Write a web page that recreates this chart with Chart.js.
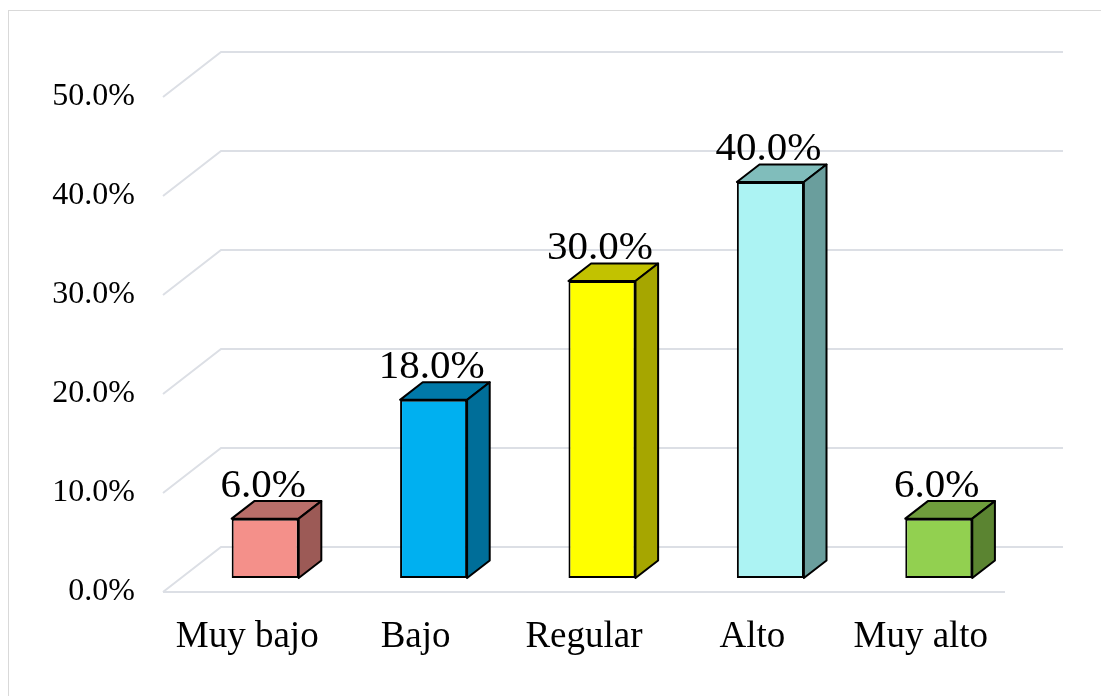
<!DOCTYPE html>
<html lang="es">
<head>
<meta charset="utf-8">
<title>Distribución por nivel</title>
<script src="https://cdn.jsdelivr.net/npm/chart.js@4.4.1/dist/chart.umd.min.js"></script>
<style>
  html, body { margin: 0; padding: 0; background: #fff; }
  canvas { display: block; }
</style>
</head>
<body>
<canvas id="chart-niveles" width="1101" height="696"></canvas>
<script>
(function () {
  'use strict';

  var categories  = ['Muy bajo', 'Bajo', 'Regular', 'Alto', 'Muy alto'];
  var percentages = [6, 18, 30, 40, 6];
  var frontColors = ['#F4908A', '#00B0F0', '#FFFF00', '#ACF3F3', '#92D050'];
  var topColors   = ['#B86E69', '#0079A8', '#C2C200', '#80BDBB', '#6F9D3C'];
  var sideColors  = ['#9C5A56', '#006E99', '#A6A600', '#6A9E9D', '#5B8431'];
  var yTickStep   = 10;
  var yMax        = 50;

  var SERIF = "'Liberation Serif', 'Times New Roman', serif";
  var GRID  = '#DCDFE5';

  // depth of the floor / back wall, and where the boxes sit inside it
  var DEPTH_X = 58, DEPTH_Y = -45;
  var BAR_OFFSET = 0.31;
  var BAR_DEPTH  = 0.39;

  Chart.defaults.font.family = SERIF;
  Chart.defaults.color = '#000';

  function pct(v) { return v.toFixed(1) + '%'; }

  // ── Frame, floor and back wall ──────────────────────────
  var wallPlugin = {
    id: 'wall3d',
    beforeDraw: function (chart) {
      var ctx = chart.ctx;
      var area = chart.chartArea;
      var y = chart.scales.y;

      ctx.save();
      ctx.strokeStyle = '#D9D9D9';
      ctx.lineWidth = 1;
      ctx.strokeRect(8.5, 10.5, 1200, 1000);

      ctx.strokeStyle = GRID;
      ctx.lineWidth = 2;
      y.ticks.forEach(function (t) {
        var py = y.getPixelForValue(t.value);
        ctx.beginPath();
        ctx.moveTo(area.left, py);
        ctx.lineTo(area.left + DEPTH_X, py + DEPTH_Y);
        ctx.lineTo(area.right + DEPTH_X, py + DEPTH_Y);
        ctx.stroke();
      });
      ctx.beginPath();
      ctx.moveTo(area.left, area.bottom);
      ctx.lineTo(area.right, area.bottom);
      ctx.stroke();
      ctx.restore();
    }
  };

  // ── Box tops and sides; front faces come from Chart.js ──
  var boxPlugin = {
    id: 'box3d',
    beforeDatasetsDraw: function (chart) {
      var ctx = chart.ctx;
      var dx = DEPTH_X * BAR_DEPTH, dy = DEPTH_Y * BAR_DEPTH;

      ctx.save();
      ctx.translate(DEPTH_X * BAR_OFFSET, DEPTH_Y * BAR_OFFSET);
      chart.getDatasetMeta(0).data.forEach(function (bar, i) {
        var l = bar.x - bar.width / 2, r = bar.x + bar.width / 2;
        var t = bar.y, b = bar.base;

        ctx.lineJoin = 'round';
        ctx.lineWidth = 2;
        ctx.strokeStyle = '#000';

        ctx.beginPath();
        ctx.moveTo(l, t);
        ctx.lineTo(l + dx, t + dy);
        ctx.lineTo(r + dx, t + dy);
        ctx.lineTo(r, t);
        ctx.closePath();
        ctx.fillStyle = topColors[i];
        ctx.fill();
        ctx.stroke();

        ctx.beginPath();
        ctx.moveTo(r, t);
        ctx.lineTo(r + dx, t + dy);
        ctx.lineTo(r + dx, b + dy);
        ctx.lineTo(r, b);
        ctx.closePath();
        ctx.fillStyle = sideColors[i];
        ctx.fill();
        ctx.stroke();
      });
    },
    afterDatasetsDraw: function (chart) {
      var ctx = chart.ctx;
      ctx.restore();

      ctx.save();
      ctx.font = '41px ' + SERIF;
      ctx.fillStyle = '#000';
      ctx.textAlign = 'center';
      ctx.textBaseline = 'alphabetic';
      chart.getDatasetMeta(0).data.forEach(function (bar, i) {
        ctx.fillText(pct(percentages[i]),
          bar.x + DEPTH_X * BAR_OFFSET - 2,
          bar.y + DEPTH_Y * BAR_OFFSET - 22);
      });
      ctx.restore();
    }
  };

  new Chart(document.getElementById('chart-niveles'), {
    type: 'bar',
    data: {
      labels: categories,
      datasets: [{
        data: percentages,
        backgroundColor: frontColors,
        borderColor: '#000',
        borderWidth: 2,
        borderSkipped: false,
        categoryPercentage: 1,
        barPercentage: 0.398
      }]
    },
    options: {
      responsive: false,
      animation: false,
      layout: { padding: { left: 0, top: 97, right: 96, bottom: 0 } },
      plugins: {
        legend: { display: false },
        tooltip: { enabled: false }
      },
      scales: {
        y: {
          min: 0,
          max: yMax,
          ticks: {
            stepSize: yTickStep,
            padding: 28,
            font: { size: 32 },
            callback: function (v) { return pct(v); }
          },
          grid: { display: false, drawTicks: false },
          border: { display: false },
          afterFit: function (s) { s.width = 163; }
        },
        x: {
          ticks: { padding: 23, font: { size: 37 } },
          grid: { display: false, drawTicks: false },
          border: { display: false },
          afterFit: function (s) { s.height = 104; }
        }
      }
    },
    plugins: [wallPlugin, boxPlugin]
  });
}());
</script>
</body>
</html>
